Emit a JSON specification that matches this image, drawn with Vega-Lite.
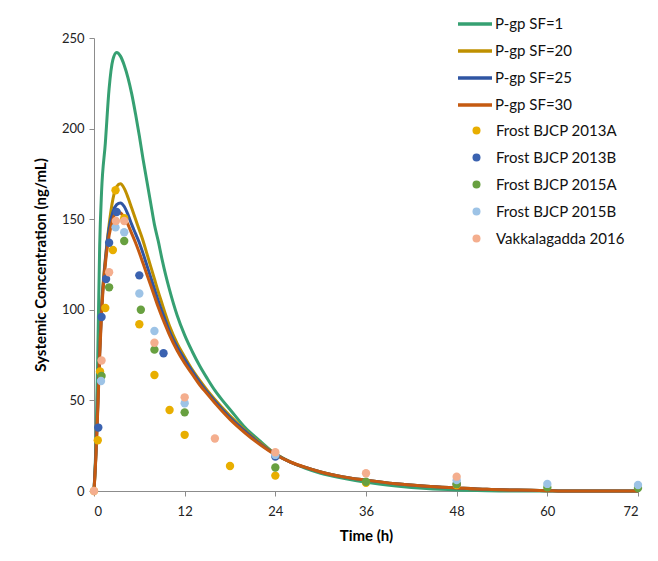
{
  "$schema": "https://vega.github.io/schema/vega-lite/v6.json",
  "width": 544,
  "height": 453,
  "autosize": {"type": "none"},
  "padding": {"left": 94, "top": 38, "right": 20, "bottom": 70},
  "background": "white",
  "config": {
    "font": "Lato",
    "view": {"stroke": null},
    "axis": {"grid": false, "domainColor": "#8c8c8c", "tickColor": "#8c8c8c", "labelFont": "Lato", "labelFontSize": 13, "labelColor": "#222222", "titleFont": "Lato", "titleFontSize": 15, "titleFontWeight": "bold", "titleColor": "#000000"},
    "legend": {"labelFont": "Lato", "labelFontSize": 15, "labelColor": "#111111"}
  },
  "datasets": {
    "curves": [
      {"series": "P-gp SF=1", "t": 0, "v": 0}, {"series": "P-gp SF=1", "t": 0.25, "v": 25}, {"series": "P-gp SF=1", "t": 0.5, "v": 75}, {"series": "P-gp SF=1", "t": 0.75, "v": 135}, {"series": "P-gp SF=1", "t": 1, "v": 165}, {"series": "P-gp SF=1", "t": 1.5, "v": 192}, {"series": "P-gp SF=1", "t": 2, "v": 222}, {"series": "P-gp SF=1", "t": 2.5, "v": 238}, {"series": "P-gp SF=1", "t": 3, "v": 242}, {"series": "P-gp SF=1", "t": 3.5, "v": 240}, {"series": "P-gp SF=1", "t": 4, "v": 235}, {"series": "P-gp SF=1", "t": 4.5, "v": 228}, {"series": "P-gp SF=1", "t": 5, "v": 219}, {"series": "P-gp SF=1", "t": 5.5, "v": 208}, {"series": "P-gp SF=1", "t": 6, "v": 196}, {"series": "P-gp SF=1", "t": 6.5, "v": 183}, {"series": "P-gp SF=1", "t": 7, "v": 171}, {"series": "P-gp SF=1", "t": 7.5, "v": 159}, {"series": "P-gp SF=1", "t": 8, "v": 147}, {"series": "P-gp SF=1", "t": 8.5, "v": 138}, {"series": "P-gp SF=1", "t": 9, "v": 128}, {"series": "P-gp SF=1", "t": 9.5, "v": 119}, {"series": "P-gp SF=1", "t": 10, "v": 111}, {"series": "P-gp SF=1", "t": 11, "v": 97}, {"series": "P-gp SF=1", "t": 12, "v": 86}, {"series": "P-gp SF=1", "t": 13, "v": 77}, {"series": "P-gp SF=1", "t": 14, "v": 69}, {"series": "P-gp SF=1", "t": 15, "v": 62}, {"series": "P-gp SF=1", "t": 16, "v": 55.5}, {"series": "P-gp SF=1", "t": 17, "v": 50}, {"series": "P-gp SF=1", "t": 18, "v": 45}, {"series": "P-gp SF=1", "t": 20, "v": 35}, {"series": "P-gp SF=1", "t": 22, "v": 27.5}, {"series": "P-gp SF=1", "t": 24, "v": 20.5}, {"series": "P-gp SF=1", "t": 26, "v": 16}, {"series": "P-gp SF=1", "t": 28, "v": 12.5}, {"series": "P-gp SF=1", "t": 30, "v": 9.8}, {"series": "P-gp SF=1", "t": 33, "v": 7}, {"series": "P-gp SF=1", "t": 36, "v": 4.8}, {"series": "P-gp SF=1", "t": 40, "v": 2.8}, {"series": "P-gp SF=1", "t": 44, "v": 1.4}, {"series": "P-gp SF=1", "t": 48, "v": 0.6}, {"series": "P-gp SF=1", "t": 52, "v": 0.2}, {"series": "P-gp SF=1", "t": 56, "v": 0}, {"series": "P-gp SF=1", "t": 72, "v": 0},
      {"series": "P-gp SF=20", "t": 0, "v": 0}, {"series": "P-gp SF=20", "t": 0.25, "v": 20}, {"series": "P-gp SF=20", "t": 0.5, "v": 48}, {"series": "P-gp SF=20", "t": 0.75, "v": 78}, {"series": "P-gp SF=20", "t": 1, "v": 102}, {"series": "P-gp SF=20", "t": 1.5, "v": 128}, {"series": "P-gp SF=20", "t": 2, "v": 147}, {"series": "P-gp SF=20", "t": 2.5, "v": 161}, {"series": "P-gp SF=20", "t": 3, "v": 168}, {"series": "P-gp SF=20", "t": 3.5, "v": 169.5}, {"series": "P-gp SF=20", "t": 4, "v": 167}, {"series": "P-gp SF=20", "t": 4.5, "v": 162}, {"series": "P-gp SF=20", "t": 5, "v": 156}, {"series": "P-gp SF=20", "t": 5.5, "v": 150}, {"series": "P-gp SF=20", "t": 6, "v": 144}, {"series": "P-gp SF=20", "t": 6.5, "v": 138}, {"series": "P-gp SF=20", "t": 7, "v": 131}, {"series": "P-gp SF=20", "t": 7.5, "v": 124}, {"series": "P-gp SF=20", "t": 8, "v": 117}, {"series": "P-gp SF=20", "t": 8.5, "v": 110}, {"series": "P-gp SF=20", "t": 9, "v": 103.5}, {"series": "P-gp SF=20", "t": 9.5, "v": 97}, {"series": "P-gp SF=20", "t": 10, "v": 91}, {"series": "P-gp SF=20", "t": 11, "v": 81.5}, {"series": "P-gp SF=20", "t": 12, "v": 74}, {"series": "P-gp SF=20", "t": 13, "v": 67}, {"series": "P-gp SF=20", "t": 14, "v": 61}, {"series": "P-gp SF=20", "t": 15, "v": 55.5}, {"series": "P-gp SF=20", "t": 16, "v": 50.5}, {"series": "P-gp SF=20", "t": 18, "v": 41.5}, {"series": "P-gp SF=20", "t": 20, "v": 33.5}, {"series": "P-gp SF=20", "t": 22, "v": 26.5}, {"series": "P-gp SF=20", "t": 24, "v": 20.5}, {"series": "P-gp SF=20", "t": 26, "v": 16}, {"series": "P-gp SF=20", "t": 28, "v": 13}, {"series": "P-gp SF=20", "t": 30, "v": 10.5}, {"series": "P-gp SF=20", "t": 33, "v": 7.8}, {"series": "P-gp SF=20", "t": 36, "v": 6}, {"series": "P-gp SF=20", "t": 40, "v": 4}, {"series": "P-gp SF=20", "t": 44, "v": 2.6}, {"series": "P-gp SF=20", "t": 48, "v": 1.7}, {"series": "P-gp SF=20", "t": 52, "v": 0.9}, {"series": "P-gp SF=20", "t": 56, "v": 0.5}, {"series": "P-gp SF=20", "t": 60, "v": 0.2}, {"series": "P-gp SF=20", "t": 62, "v": 0}, {"series": "P-gp SF=20", "t": 72, "v": 0},
      {"series": "P-gp SF=25", "t": 0, "v": 0}, {"series": "P-gp SF=25", "t": 0.25, "v": 20}, {"series": "P-gp SF=25", "t": 0.5, "v": 47}, {"series": "P-gp SF=25", "t": 0.75, "v": 76}, {"series": "P-gp SF=25", "t": 1, "v": 100}, {"series": "P-gp SF=25", "t": 1.5, "v": 127}, {"series": "P-gp SF=25", "t": 2, "v": 145}, {"series": "P-gp SF=25", "t": 2.5, "v": 154}, {"series": "P-gp SF=25", "t": 3, "v": 158}, {"series": "P-gp SF=25", "t": 3.5, "v": 159}, {"series": "P-gp SF=25", "t": 4, "v": 157}, {"series": "P-gp SF=25", "t": 4.5, "v": 152.5}, {"series": "P-gp SF=25", "t": 5, "v": 147}, {"series": "P-gp SF=25", "t": 5.5, "v": 142}, {"series": "P-gp SF=25", "t": 6, "v": 137}, {"series": "P-gp SF=25", "t": 6.5, "v": 131}, {"series": "P-gp SF=25", "t": 7, "v": 124.5}, {"series": "P-gp SF=25", "t": 7.5, "v": 118}, {"series": "P-gp SF=25", "t": 8, "v": 111.5}, {"series": "P-gp SF=25", "t": 8.5, "v": 105}, {"series": "P-gp SF=25", "t": 9, "v": 99}, {"series": "P-gp SF=25", "t": 9.5, "v": 93.5}, {"series": "P-gp SF=25", "t": 10, "v": 88}, {"series": "P-gp SF=25", "t": 11, "v": 79.5}, {"series": "P-gp SF=25", "t": 12, "v": 72.5}, {"series": "P-gp SF=25", "t": 13, "v": 66}, {"series": "P-gp SF=25", "t": 14, "v": 60}, {"series": "P-gp SF=25", "t": 15, "v": 54.5}, {"series": "P-gp SF=25", "t": 16, "v": 49.5}, {"series": "P-gp SF=25", "t": 18, "v": 40.5}, {"series": "P-gp SF=25", "t": 20, "v": 33}, {"series": "P-gp SF=25", "t": 22, "v": 26}, {"series": "P-gp SF=25", "t": 24, "v": 20.3}, {"series": "P-gp SF=25", "t": 26, "v": 16}, {"series": "P-gp SF=25", "t": 28, "v": 13}, {"series": "P-gp SF=25", "t": 30, "v": 10.5}, {"series": "P-gp SF=25", "t": 33, "v": 7.8}, {"series": "P-gp SF=25", "t": 36, "v": 6}, {"series": "P-gp SF=25", "t": 40, "v": 4}, {"series": "P-gp SF=25", "t": 44, "v": 2.6}, {"series": "P-gp SF=25", "t": 48, "v": 1.7}, {"series": "P-gp SF=25", "t": 52, "v": 0.9}, {"series": "P-gp SF=25", "t": 56, "v": 0.5}, {"series": "P-gp SF=25", "t": 60, "v": 0.2}, {"series": "P-gp SF=25", "t": 62, "v": 0}, {"series": "P-gp SF=25", "t": 72, "v": 0},
      {"series": "P-gp SF=30", "t": 0, "v": 0}, {"series": "P-gp SF=30", "t": 0.25, "v": 19}, {"series": "P-gp SF=30", "t": 0.5, "v": 45}, {"series": "P-gp SF=30", "t": 0.75, "v": 74}, {"series": "P-gp SF=30", "t": 1, "v": 98}, {"series": "P-gp SF=30", "t": 1.5, "v": 125}, {"series": "P-gp SF=30", "t": 2, "v": 141}, {"series": "P-gp SF=30", "t": 2.5, "v": 150}, {"series": "P-gp SF=30", "t": 3, "v": 154}, {"series": "P-gp SF=30", "t": 3.5, "v": 153.5}, {"series": "P-gp SF=30", "t": 4, "v": 151}, {"series": "P-gp SF=30", "t": 4.5, "v": 147}, {"series": "P-gp SF=30", "t": 5, "v": 142}, {"series": "P-gp SF=30", "t": 5.5, "v": 137}, {"series": "P-gp SF=30", "t": 6, "v": 131.5}, {"series": "P-gp SF=30", "t": 6.5, "v": 125.5}, {"series": "P-gp SF=30", "t": 7, "v": 119.5}, {"series": "P-gp SF=30", "t": 7.5, "v": 113.5}, {"series": "P-gp SF=30", "t": 8, "v": 107.5}, {"series": "P-gp SF=30", "t": 8.5, "v": 101.5}, {"series": "P-gp SF=30", "t": 9, "v": 96}, {"series": "P-gp SF=30", "t": 9.5, "v": 91}, {"series": "P-gp SF=30", "t": 10, "v": 86}, {"series": "P-gp SF=30", "t": 11, "v": 77.5}, {"series": "P-gp SF=30", "t": 12, "v": 70.5}, {"series": "P-gp SF=30", "t": 13, "v": 64.5}, {"series": "P-gp SF=30", "t": 14, "v": 58.5}, {"series": "P-gp SF=30", "t": 15, "v": 53.5}, {"series": "P-gp SF=30", "t": 16, "v": 48.5}, {"series": "P-gp SF=30", "t": 18, "v": 39.5}, {"series": "P-gp SF=30", "t": 20, "v": 32}, {"series": "P-gp SF=30", "t": 22, "v": 25.5}, {"series": "P-gp SF=30", "t": 24, "v": 20}, {"series": "P-gp SF=30", "t": 26, "v": 16}, {"series": "P-gp SF=30", "t": 28, "v": 13}, {"series": "P-gp SF=30", "t": 30, "v": 10.5}, {"series": "P-gp SF=30", "t": 33, "v": 7.8}, {"series": "P-gp SF=30", "t": 36, "v": 6}, {"series": "P-gp SF=30", "t": 40, "v": 4}, {"series": "P-gp SF=30", "t": 44, "v": 2.6}, {"series": "P-gp SF=30", "t": 48, "v": 1.7}, {"series": "P-gp SF=30", "t": 52, "v": 0.9}, {"series": "P-gp SF=30", "t": 56, "v": 0.5}, {"series": "P-gp SF=30", "t": 60, "v": 0.2}, {"series": "P-gp SF=30", "t": 62, "v": 0}, {"series": "P-gp SF=30", "t": 72, "v": 0}
    ],
    "obs": [
      {"series": "Frost BJCP 2013A", "t": 0, "v": 0}, {"series": "Frost BJCP 2013A", "t": 0.5, "v": 28}, {"series": "Frost BJCP 2013A", "t": 0.8, "v": 66}, {"series": "Frost BJCP 2013A", "t": 1.5, "v": 101}, {"series": "Frost BJCP 2013A", "t": 2.5, "v": 133}, {"series": "Frost BJCP 2013A", "t": 2.85, "v": 166}, {"series": "Frost BJCP 2013A", "t": 4, "v": 150.5}, {"series": "Frost BJCP 2013A", "t": 6, "v": 92}, {"series": "Frost BJCP 2013A", "t": 8, "v": 64}, {"series": "Frost BJCP 2013A", "t": 10, "v": 44.7}, {"series": "Frost BJCP 2013A", "t": 12, "v": 31}, {"series": "Frost BJCP 2013A", "t": 18, "v": 13.8}, {"series": "Frost BJCP 2013A", "t": 24, "v": 8.5}, {"series": "Frost BJCP 2013A", "t": 36, "v": 4.5}, {"series": "Frost BJCP 2013A", "t": 48, "v": 3.3},
      {"series": "Frost BJCP 2013B", "t": 0.57, "v": 35}, {"series": "Frost BJCP 2013B", "t": 1, "v": 96}, {"series": "Frost BJCP 2013B", "t": 1.6, "v": 117}, {"series": "Frost BJCP 2013B", "t": 2, "v": 137}, {"series": "Frost BJCP 2013B", "t": 3, "v": 154}, {"series": "Frost BJCP 2013B", "t": 6, "v": 119}, {"series": "Frost BJCP 2013B", "t": 9.2, "v": 76}, {"series": "Frost BJCP 2013B", "t": 24, "v": 19}, {"series": "Frost BJCP 2013B", "t": 48, "v": 3.9},
      {"series": "Frost BJCP 2015A", "t": 1, "v": 63.5}, {"series": "Frost BJCP 2015A", "t": 2, "v": 112.4}, {"series": "Frost BJCP 2015A", "t": 4, "v": 138}, {"series": "Frost BJCP 2015A", "t": 6.2, "v": 100}, {"series": "Frost BJCP 2015A", "t": 8, "v": 78}, {"series": "Frost BJCP 2015A", "t": 12, "v": 43.4}, {"series": "Frost BJCP 2015A", "t": 24, "v": 13}, {"series": "Frost BJCP 2015A", "t": 36, "v": 5.1}, {"series": "Frost BJCP 2015A", "t": 48, "v": 3.8}, {"series": "Frost BJCP 2015A", "t": 60, "v": 2}, {"series": "Frost BJCP 2015A", "t": 72, "v": 1.6},
      {"series": "Frost BJCP 2015B", "t": 0.93, "v": 60.7}, {"series": "Frost BJCP 2015B", "t": 2.85, "v": 145.5}, {"series": "Frost BJCP 2015B", "t": 4, "v": 142.8}, {"series": "Frost BJCP 2015B", "t": 6, "v": 109}, {"series": "Frost BJCP 2015B", "t": 8, "v": 88.3}, {"series": "Frost BJCP 2015B", "t": 12, "v": 48.4}, {"series": "Frost BJCP 2015B", "t": 24, "v": 19.9}, {"series": "Frost BJCP 2015B", "t": 48, "v": 6}, {"series": "Frost BJCP 2015B", "t": 60, "v": 3.9}, {"series": "Frost BJCP 2015B", "t": 72, "v": 3.3},
      {"series": "Vakkalagadda 2016", "t": 0, "v": 0}, {"series": "Vakkalagadda 2016", "t": 1, "v": 72}, {"series": "Vakkalagadda 2016", "t": 2, "v": 120.7}, {"series": "Vakkalagadda 2016", "t": 2.9, "v": 149}, {"series": "Vakkalagadda 2016", "t": 4, "v": 149}, {"series": "Vakkalagadda 2016", "t": 8, "v": 81.8}, {"series": "Vakkalagadda 2016", "t": 12, "v": 51.7}, {"series": "Vakkalagadda 2016", "t": 16, "v": 29}, {"series": "Vakkalagadda 2016", "t": 24, "v": 21.4}, {"series": "Vakkalagadda 2016", "t": 36, "v": 9.8}, {"series": "Vakkalagadda 2016", "t": 48, "v": 7.9}
    ]
  },
  "encoding": {
    "x": {"field": "t", "type": "quantitative", "scale": {"domain": [0, 72], "nice": false}, "axis": {"title": "Time (h)", "values": [0, 12, 24, 36, 48, 60, 72], "tickSize": 5, "labelPadding": 9, "titlePadding": 10}},
    "y": {"field": "v", "type": "quantitative", "scale": {"domain": [0, 250], "nice": false}, "axis": {"title": "Systemic Concentration (ng/mL)", "values": [0, 50, 100, 150, 200, 250], "tickSize": 5, "labelPadding": 5, "titlePadding": 13}}
  },
  "layer": [
    {
      "data": {"name": "curves"},
      "mark": {"type": "line", "strokeWidth": 3, "interpolate": "monotone"},
      "encoding": {
        "stroke": {"field": "series", "type": "nominal", "sort": ["P-gp SF=1", "P-gp SF=20", "P-gp SF=25", "P-gp SF=30"],
          "scale": {"domain": ["P-gp SF=1", "P-gp SF=20", "P-gp SF=25", "P-gp SF=30"], "range": ["#36A072", "#BF9000", "#2F55A3", "#C55A11"]},
          "legend": {"title": null, "orient": "none", "legendX": 362, "legendY": -33, "symbolType": "stroke", "symbolSize": 1156, "symbolStrokeWidth": 3.5, "labelOffset": 1, "rowPadding": 0}}
      }
    },
    {
      "data": {"name": "obs"},
      "mark": {"type": "point", "shape": "circle", "filled": true, "size": 70, "opacity": 1, "strokeWidth": 0},
      "encoding": {
        "fill": {"field": "series", "type": "nominal",
          "scale": {"domain": ["Frost BJCP 2013A", "Frost BJCP 2013B", "Frost BJCP 2015A", "Frost BJCP 2015B", "Vakkalagadda 2016"], "range": ["#E8AE00", "#3A62B0", "#68A040", "#9DC3E6", "#F4AE8E"]},
          "legend": {"title": null, "orient": "none", "legendX": 375, "legendY": 85, "symbolType": "circle", "symbolSize": 64, "symbolStrokeWidth": 0, "labelOffset": 12, "rowPadding": 11}}
      }
    }
  ]
}
